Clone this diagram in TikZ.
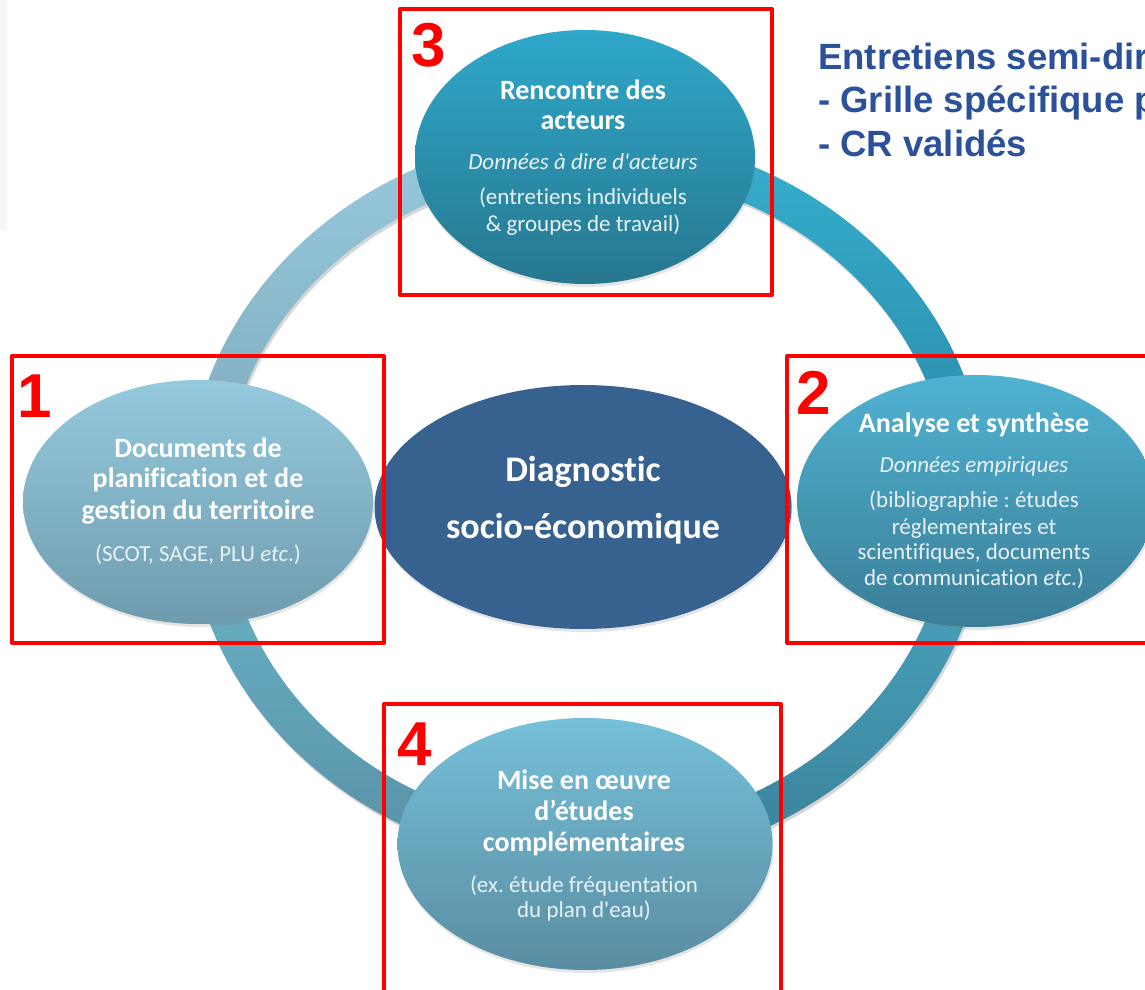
\documentclass[tikz,border=0pt]{standalone}
\usepackage{fontspec}
\newfontfamily\calib{Carlito}[Ligatures=NoCommon]
\newfontfamily\arialfont{Liberation Sans}
\usetikzlibrary{shapes.geometric,shadows}
\frenchspacing
\definecolor{eOneA}{HTML}{95C9DD}
\definecolor{eOneB}{HTML}{6F9BAE}
\definecolor{eThreeA}{HTML}{2FA8CA}
\definecolor{eThreeB}{HTML}{27778F}
\definecolor{eTwoA}{HTML}{50B3D2}
\definecolor{eTwoB}{HTML}{3A7D97}
\definecolor{eFourA}{HTML}{75C0D9}
\definecolor{eFourB}{HTML}{5A8DA2}
\definecolor{centreblue}{HTML}{37618F}
\definecolor{rTLa}{HTML}{97CADE}
\definecolor{rTLb}{HTML}{7EA8BA}
\definecolor{rTRa}{HTML}{36AFCE}
\definecolor{rTRb}{HTML}{2A88A5}
\definecolor{rBRa}{HTML}{4DAAC6}
\definecolor{rBRb}{HTML}{3A8199}
\definecolor{rBLa}{HTML}{6DB8CF}
\definecolor{rBLb}{HTML}{5890A4}
\definecolor{noteblue}{HTML}{2B519B}
\definecolor{subwhite}{HTML}{E8F2F6}
\definecolor{framered}{HTML}{FF0000}
\begin{document}
\begin{tikzpicture}[x=1pt,y=1pt,
  bubble/.style={ellipse, inner sep=0pt, draw=none,
    drop shadow={shadow xshift=1pt, shadow yshift=-3pt, opacity=0.2}},
  titleline/.style={text=white, font=\calib\bfseries\fontsize{28}{30}\selectfont, anchor=base, inner sep=0pt},
  subline/.style={text=subwhite, font=\calib\fontsize{23}{25}\selectfont, anchor=base, inner sep=0pt},
  itline/.style={text=subwhite, font=\calib\itshape\fontsize{23}{25}\selectfont, anchor=base, inner sep=0pt},
  centreline/.style={text=white, font=\calib\bfseries\fontsize{36}{39}\selectfont, anchor=base, inner sep=0pt},
  redframe/.style={draw=framered, line width=4pt, line join=round},
  numlabel/.style={text=framered, font=\arialfont\bfseries\fontsize{62}{62}\selectfont, anchor=base, inner sep=0pt},
  noteline/.style={text=noteblue, font=\arialfont\bfseries\fontsize{36.5}{40}\selectfont, anchor=base west, inner sep=0pt}
]
\useasboundingbox (0,0) rectangle (1145,989);
\clip (0,0) rectangle (1145,989);
\fill[white] (0,0) rectangle (1145,989);
\fill[black!3] (0,759) rectangle (7,989);

% ring
\begin{scope}[shift={(587,489)}]
  \draw[black, opacity=0.16, line width=37pt] (1.5,-3) ellipse[x radius=382, y radius=348];
  \shade[top color=rTLa, bottom color=rTLb]
    (0,366.5) arc[start angle=90,end angle=180,x radius=400.5,y radius=366.5]
    -- (-363.5,0) arc[start angle=180,end angle=90,x radius=363.5,y radius=329.5] -- cycle;
  \shade[top color=rTRa, bottom color=rTRb]
    (400.5,0) arc[start angle=0,end angle=90,x radius=400.5,y radius=366.5]
    -- (0,329.5) arc[start angle=90,end angle=0,x radius=363.5,y radius=329.5] -- cycle;
  \shade[top color=rBRa, bottom color=rBRb]
    (0,-366.5) arc[start angle=270,end angle=360,x radius=400.5,y radius=366.5]
    -- (363.5,0) arc[start angle=360,end angle=270,x radius=363.5,y radius=329.5] -- cycle;
  \shade[top color=rBLa, bottom color=rBLb]
    (-400.5,0) arc[start angle=180,end angle=270,x radius=400.5,y radius=366.5]
    -- (0,-329.5) arc[start angle=270,end angle=180,x radius=363.5,y radius=329.5] -- cycle;
\end{scope}

% bubbles
\node[bubble, minimum width=350pt, minimum height=244pt, top color=eOneA, bottom color=eOneB] (e1) at (198,487) {};
\node[bubble, minimum width=340pt, minimum height=254pt, top color=eThreeA, bottom color=eThreeB] (e3) at (585,832) {};
\node[bubble, minimum width=358pt, minimum height=252pt, top color=eTwoA, bottom color=eTwoB] (e2) at (976,488) {};
\node[bubble, minimum width=375pt, minimum height=252pt, top color=eFourA, bottom color=eFourB] (e4) at (585,145) {};
\node[bubble, minimum width=417pt, minimum height=244pt, fill=centreblue] (ec) at (583,482) {};

% texts bubble 1
\node[titleline] (t1a) at (198,531) {Documents de};
\node[titleline] (t1b) at (198,501) {planification et de};
\node[titleline] (t1c) at (198,469) {gestion du territoire};
\node[subline] (t1d) at (198,428) {(SCOT, SAGE, PLU \textit{etc}.)};

% texts bubble 3
\node[titleline] (t3a) at (583,889) {Rencontre des};
\node[titleline] (t3b) at (583,859) {acteurs};
\node[itline] (t3c) at (583,819) {Données à dire d'acteurs};
\node[subline] (t3d) at (583,784) {(entretiens individuels};
\node[subline] (t3e) at (583,757) {\& groupes de travail)};

% texts bubble 2
\node[titleline] (t2a) at (974,556) {Analyse et synthèse};
\node[itline] (t2b) at (974,516) {Données empiriques};
\node[subline] (t2c) at (974,481) {(bibliographie : études};
\node[subline] (t2d) at (974,455) {réglementaires et};
\node[subline] (t2e) at (974,430) {scientifiques, documents};
\node[subline] (t2f) at (974,404) {de communication \textit{etc}.)};

% texts bubble 4
\node[titleline] (t4a) at (584,200) {Mise en œuvre};
\node[titleline] (t4b) at (584,169) {d’études};
\node[titleline] (t4c) at (584,138) {complémentaires};
\node[subline] (t4d) at (584,97) {(ex. étude fréquentation};
\node[subline] (t4e) at (584,72) {du plan d'eau)};

% centre text
\node[centreline] (tca) at (583,507) {Diagnostic};
\node[centreline] (tcb) at (583,450) {socio-économique};

% red frames
\draw[redframe] (400,980) rectangle (772,694);
\draw[redframe] (12,633) rectangle (384,346);
\draw[redframe] (787,633) rectangle (1160,346);
\draw[redframe] (384,285) rectangle (781,-10);

% numbers
\node[numlabel] (n3) at (429,922) {3};
\node[numlabel] (n1) at (35,571) {1};
\node[numlabel] (n2) at (814,574) {2};
\node[numlabel] (n4) at (415,224) {4};

% note
\node[noteline] (m1) at (818,919) {Entretiens semi-dir};
\node[noteline] (m2) at (818,876) {- Grille spécifique p};
\node[noteline] (m3) at (818,832) {- CR validés};
\end{tikzpicture}
\end{document}
